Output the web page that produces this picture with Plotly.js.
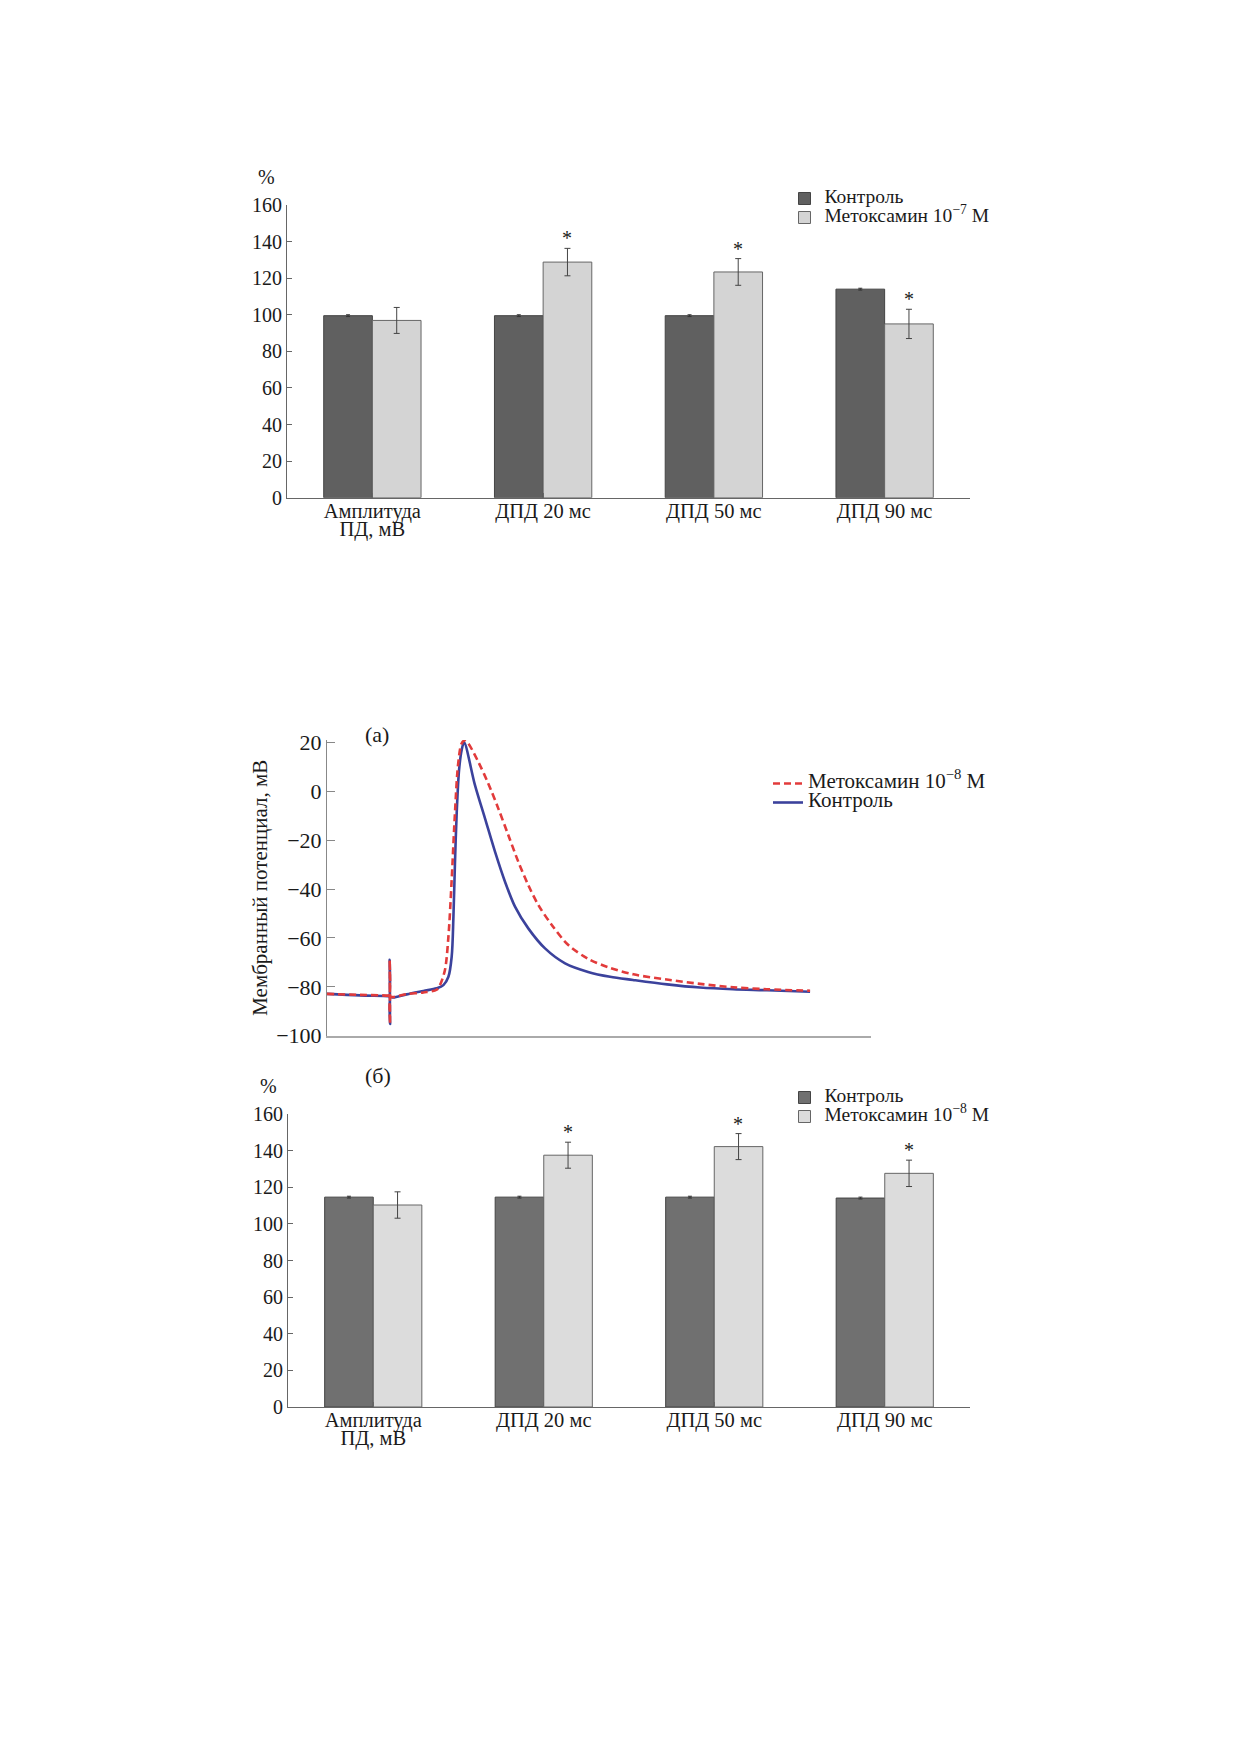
<!DOCTYPE html>
<html>
<head>
<meta charset="utf-8">
<script src="https://cdn.plot.ly/plotly-3.0.1.min.js"></script>
<style>
  body {margin:0; background:#fff;}
</style>
</head>
<body>
<div id="fig" style="width:1240px;height:1754px;"></div>
<script>
// --- данные: гистограммы (% от исходного) ---
const categories = ["Амплитуда<br>ПД, мВ", "ДПД 20 мс", "ДПД 50 мс", "ДПД 90 мс"];

// метоксамин 10^-7 M
const ctl7 = [99.5, 99.5, 99.5, 114];
const ctl7Err = [0.5, 0.5, 0.5, 0.5];
const met7 = [96.9, 128.8, 123.4, 95];
const met7Err = [7.1, 7.5, 7.3, 8];
const sig7 = [false, true, true, true];

// метоксамин 10^-8 M
const ctl8 = [114.6, 114.6, 114.6, 114.1];
const ctl8Err = [0.5, 0.5, 0.5, 0.5];
const met8 = [110.3, 137.5, 142.2, 127.6];
const met8Err = [7.2, 7.1, 7.1, 7.2];
const sig8 = [false, true, true, true];

// --- данные: потенциал действия (время, мс; потенциал, мВ) ---
const ctlT = [0, 15.2, 28.0, 28.6, 28.8, 29.0, 29.2, 30.5, 36.6, 44.3, 50.4, 53.5, 55.8, 57.3, 58.1, 58.8,
              59.6, 60.7, 61.9, 63.0, 68.0, 72.6, 77.2, 81.8, 86.4, 92.5, 100.2, 109.4, 120.0, 130.1,
              140.6, 156.3, 171.4, 186.6, 202.2, 222.0];
const ctlV = [-82.9, -83.5, -83.8, -83.9, -69, -95.2, -84.3, -84.4, -83.1, -81.7, -80.6, -79.3, -75.9, -67.7, -51.3, -29.5,
              -9, 8.7, 16.9, 20.0, 2.5, -11.1, -24.7, -37, -47.2, -56.1, -64.3, -70.4, -73.9, -75.9,
              -77.2, -79.0, -80.3, -81, -81.4, -82];
const metT = [0, 15.2, 28.0, 28.6, 28.8, 29.0, 29.2, 30.5, 36.6, 44.3, 50.4, 51.9, 54.2, 55.8, 57.3, 58.8,
              60.3, 61.9, 63.4, 64.9, 69.5, 74.1, 78.7, 83.3, 87.9, 92.5, 97.1, 103.3, 110.9, 120.1,
              129.3, 140.8, 156.1, 171.4, 186.7, 202.1, 222.0];
const metV = [-82.9, -83.3, -83.6, -83.7, -69, -95.2, -84.2, -84.2, -83.0, -82.3, -81.2, -79.3, -73.1, -59.5, -36.3, -9,
              11.4, 19.6, 20.8, 19.6, 12.1, 3.2, -7, -17.9, -28.8, -38.4, -46.5, -54.7, -62.9, -68.6,
              -72, -74.9, -77, -78.8, -80.2, -81, -81.6];

const FONT = "Liberation Serif, Times New Roman, serif";
const TXT = "#1a1a1a";
const AXC = "#666";

// крупный текст при мелком базовом шрифте -> плотные строки, как в оригинале
function big(s, px) {
    return s.split("<br>").map(p => `<span style="font-size:${px}px">${p}</span>`).join("<br>");
}

function barTraces(ctl, ctlErr, met, metErr, colCtl, colMet, metName, xa, ya, legendId) {
    const idx = categories.map((_, i) => i);
    return [
        {
            x: idx, y: ctl, type: "bar", name: big("Контроль", 19.5), xaxis: xa, yaxis: ya, legend: legendId,
            marker: {color: colCtl, line: {color: "#444", width: 1}},
            error_y: {type: "data", array: ctlErr, color: "#333", thickness: 1, width: 2}
        },
        {
            x: idx, y: met, type: "bar", name: big(metName, 19.5), xaxis: xa, yaxis: ya, legend: legendId,
            marker: {color: colMet, line: {color: "#666", width: 1}},
            error_y: {type: "data", array: metErr, color: "#444", thickness: 1, width: 3}
        }
    ];
}

function starNotes(met, metErr, sig, xref, yref) {
    return met.map((v, i) => ({
        x: i, y: v + metErr[i], xref: xref, yref: yref, text: "*", showarrow: false,
        xshift: 24, yshift: -3, xanchor: "center", yanchor: "bottom",
        font: {family: FONT, size: 20, color: TXT}
    })).filter((_, i) => sig[i]);
}

const traces = [
    ...barTraces(ctl7, ctl7Err, met7, met7Err, "#606060", "#d4d4d4", "Метоксамин 10<sup>−7</sup> М", "x", "y", "legend"),
    {
        x: ctlT, y: ctlV, type: "scatter", mode: "lines", name: big("Контроль", 21), xaxis: "x2", yaxis: "y2",
        legend: "legend2", legendrank: 2, line: {color: "#3b429c", width: 2.6, shape: "spline", smoothing: 0.9}
    },
    {
        x: metT, y: metV, type: "scatter", mode: "lines", name: big("Метоксамин 10<sup>−8</sup> М", 21),
        xaxis: "x2", yaxis: "y2", legend: "legend2", legendrank: 1,
        line: {color: "#e23b3b", width: 2.6, dash: "7px,4px", shape: "spline", smoothing: 0.9}
    },
    ...barTraces(ctl8, ctl8Err, met8, met8Err, "#707070", "#dcdcdc", "Метоксамин 10<sup>−8</sup> М", "x3", "y3", "legend3")
];

const barX = {
    range: [-0.5, 3.5], tickvals: [0, 1, 2, 3], ticktext: categories.map(c => big(c, 20.5)), tickson: "boundaries",
    ticks: "inside", ticklen: 5, tickcolor: AXC, showline: true, linecolor: AXC, linewidth: 1,
    showgrid: false, zeroline: false, ticklabelstandoff: 2, tickfont: {family: FONT, size: 14, color: TXT}
};
const barY = {
    range: [0, 160], dtick: 20, ticks: "inside", ticklen: 5, tickcolor: AXC, showline: true,
    linecolor: AXC, linewidth: 1, showgrid: false, zeroline: false,
    tickfont: {family: FONT, size: 20, color: TXT}
};
const legendBase = {
    bgcolor: "rgba(0,0,0,0)", borderwidth: 0, xanchor: "left", yanchor: "top",
    font: {family: FONT, size: 12, color: TXT}
};
const labelFont = {family: FONT, size: 20, color: TXT};

function paperNote(x, y, text, size) {
    return {x: x / 1240, y: 1 - y / 1754, xref: "paper", yref: "paper", text: text, showarrow: false,
            xanchor: "center", yanchor: "middle", font: {...labelFont, size: size}};
}

const layout = {
    width: 1240, height: 1754,
    margin: {l: 0, r: 0, t: 0, b: 0},
    paper_bgcolor: "#fff", plot_bgcolor: "#fff",
    barmode: "group", bargap: 0.43, bargroupgap: 0,
    showlegend: true,
    xaxis: {...barX, domain: [287 / 1240, 970 / 1240], anchor: "y"},
    yaxis: {...barY, domain: [1 - 497.7 / 1754, 1 - 205 / 1754], anchor: "x"},
    xaxis2: {
        domain: [327 / 1240, 871 / 1240], anchor: "y2", range: [0, 250], showticklabels: false,
        ticks: "", showline: true, linecolor: "#aaa", linewidth: 2, showgrid: false, zeroline: false
    },
    yaxis2: {
        domain: [1 - 1035.7 / 1754, 1 - 739.9 / 1754], anchor: "x2", range: [-100, 21],
        tickvals: [-100, -80, -60, -40, -20, 0, 20], ticks: "inside", ticklen: 8, tickcolor: "#888",
        showline: true, linecolor: "#888", linewidth: 1, showgrid: false, zeroline: false,
        tickfont: {family: FONT, size: 22, color: TXT},
        title: {text: "Мембранный потенциал, мВ", font: {family: FONT, size: 21, color: TXT}, standoff: 2}
    },
    xaxis3: {...barX, domain: [288 / 1240, 970 / 1240], anchor: "y3"},
    yaxis3: {...barY, domain: [1 - 1407 / 1754, 1 - 1114 / 1754], anchor: "x3"},
    legend: {...legendBase, x: 784.5 / 1240, y: 1 - 184 / 1754},
    legend2: {...legendBase, x: 768 / 1240, y: 1 - 769 / 1754},
    legend3: {...legendBase, x: 784.5 / 1240, y: 1 - 1083 / 1754},
    annotations: [
        paperNote(266, 176.5, "%", 20),
        paperNote(268, 1086, "%", 20),
        paperNote(376.5, 734, "(а)", 22),
        paperNote(377.6, 1075, "(б)", 22),
        ...starNotes(met7, met7Err, sig7, "x", "y"),
        ...starNotes(met8, met8Err, sig8, "x3", "y3")
    ]
};

Plotly.newPlot("fig", traces, layout, {staticPlot: true});
</script>
</body>
</html>
